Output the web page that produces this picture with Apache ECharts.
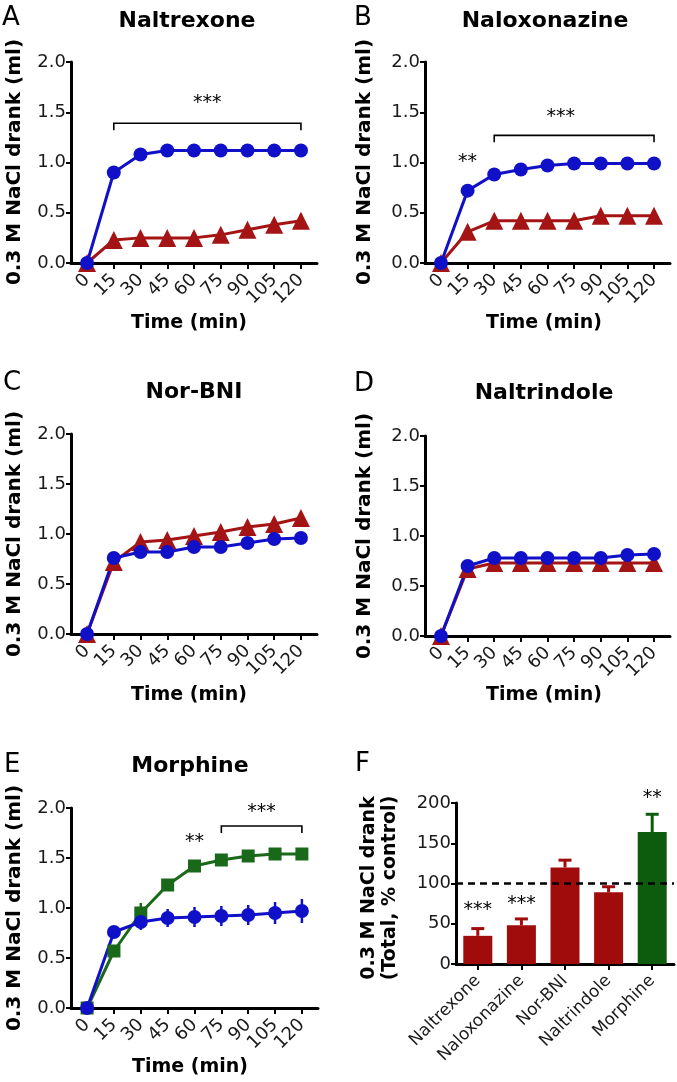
<!DOCTYPE html>
<html>
<head>
<meta charset="utf-8">
<script src="https://cdn.jsdelivr.net/npm/echarts@6/dist/echarts.min.js"></script>
<style>
html,body{margin:0;padding:0;background:#fff;}
#chart{width:677px;height:1082px;}
</style>
</head>
<body>
<div id="chart"></div>
<script>
// ---------- data ----------
const times = [0, 15, 30, 45, 60, 75, 90, 105, 120];
const timeTickValues = [0, 15, 30, 45, 60, 75, 90, 105, 120];
const yTicks = [0, 0.5, 1.0, 1.5, 2.0];

// A: Naltrexone
const naltrexoneVehicle = [0, 0.90, 1.08, 1.12, 1.12, 1.12, 1.12, 1.12, 1.12];
const naltrexoneVehicleErr = [0, 0.03, 0.03, 0.02, 0.02, 0.02, 0.02, 0.02, 0.02];
const naltrexoneDrug = [0, 0.23, 0.25, 0.25, 0.25, 0.28, 0.33, 0.38, 0.42];
const naltrexoneDrugErr = [0, 0.03, 0.03, 0.03, 0.03, 0.03, 0.04, 0.05, 0.07];

// B: Naloxonazine
const naloxonazineVehicle = [0, 0.72, 0.88, 0.93, 0.97, 0.99, 0.99, 0.99, 0.99];
const naloxonazineVehicleErr = [0, 0.04, 0.03, 0.05, 0.03, 0.02, 0.02, 0.02, 0.02];
const naloxonazineDrug = [0, 0.31, 0.42, 0.42, 0.42, 0.42, 0.47, 0.47, 0.47];
const naloxonazineDrugErr = [0, 0.04, 0.03, 0.03, 0.03, 0.03, 0.03, 0.03, 0.03];

// C: Nor-BNI
const norBniVehicle = [0, 0.76, 0.82, 0.82, 0.87, 0.87, 0.91, 0.95, 0.96];
const norBniVehicleErr = [0, 0.03, 0.03, 0.03, 0.03, 0.03, 0.03, 0.03, 0.03];
const norBniDrug = [0, 0.72, 0.92, 0.94, 0.98, 1.02, 1.07, 1.10, 1.16];
const norBniDrugErr = [0, 0.03, 0.03, 0.03, 0.03, 0.03, 0.04, 0.04, 0.05];

// D: Naltrindole
const naltrindoleVehicle = [0, 0.70, 0.78, 0.78, 0.78, 0.78, 0.78, 0.81, 0.82];
const naltrindoleVehicleErr = [0, 0.03, 0.03, 0.03, 0.03, 0.03, 0.03, 0.03, 0.03];
const naltrindoleDrug = [0, 0.67, 0.73, 0.73, 0.73, 0.73, 0.73, 0.73, 0.73];
const naltrindoleDrugErr = [0, 0.03, 0.03, 0.03, 0.03, 0.03, 0.03, 0.03, 0.03];

// E: Morphine
const morphineVehicle = [0, 0.76, 0.86, 0.90, 0.91, 0.92, 0.93, 0.95, 0.97];
const morphineVehicleErr = [0, 0.06, 0.08, 0.09, 0.10, 0.10, 0.10, 0.11, 0.12];
const morphineDrug = [0, 0.57, 0.95, 1.23, 1.42, 1.48, 1.52, 1.54, 1.54];
const morphineDrugErr = [0, 0.05, 0.10, 0.05, 0.04, 0.04, 0.05, 0.04, 0.04];

// F: totals
const totalCategories = ['Naltrexone', 'Naloxonazine', 'Nor-BNI', 'Naltrindole', 'Morphine'];
const totalPercent = [35, 48, 120, 89, 164];
const totalPercentErr = [9, 8, 9, 7, 22];
const totalYTicks = [0, 50, 100, 150, 200];
const controlLevel = 100;

// significance annotations: [xStart, xEnd, y]
const bracketsA = [[15, 120, 1.39]];
const bracketsB = [[30, 120, 1.27]];
const bracketsE = [[75, 120, 1.82]];
// stars: [x, y] + text
const starsAPos = [[67.5, 1.59]]; const starsAText = ['***'];
const starsBPos = [[15, 1.0], [67.5, 1.45]]; const starsBText = ['**', '***'];
const starsEPos = [[60, 1.66], [97.5, 1.96]]; const starsEText = ['**', '***'];
const starsFPos = [[0, 67], [1, 74], [4, 206]]; const starsFText = ['***', '***', '**'];

const panelTitles = ['Naltrexone', 'Naloxonazine', 'Nor-BNI', 'Naltrindole', 'Morphine'];
const panelLetters = ['A', 'B', 'C', 'D', 'E', 'F'];

// ---------- styles ----------
const BLUE = '#1010c8';
const RED = '#a51414';
const GREEN = '#1a691a';
const BAR_RED = '#a00c0c';
const BAR_GREEN = '#0d5c0d';
const FONT = 'DejaVu Sans';

const grids = [
  {left: 71, top: 62, width: 246, height: 201},
  {left: 425, top: 62, width: 245, height: 201},
  {left: 71, top: 434, width: 246, height: 200},
  {left: 425, top: 436, width: 245, height: 200},
  {left: 71, top: 808, width: 247, height: 200},
  {left: 456, top: 803, width: 218, height: 161}
];

const axisLineStyle = {show: true, onZero: false, lineStyle: {color: '#000', width: 3}};
const tickStyle = {show: true, length: 6, lineStyle: {color: '#000', width: 2}};
const labelFont = {fontFamily: FONT, fontSize: 18, color: '#1a1a1a'};

const xAxes = [];
const yAxes = [];
for (let i = 0; i < 5; i++) {
  xAxes.push({
    type: 'value', gridIndex: i, min: -9, max: 129,
    axisLine: axisLineStyle,
    axisTick: Object.assign({}, tickStyle, {customValues: timeTickValues}),
    axisLabel: Object.assign({}, labelFont, {rotate: 45, margin: 14, customValues: timeTickValues}),
    splitLine: {show: false}
  });
  yAxes.push({
    type: 'value', gridIndex: i, min: 0, max: 2, interval: 0.5,
    axisLine: axisLineStyle,
    axisTick: Object.assign({}, tickStyle, {length: 5}),
    axisLabel: Object.assign({}, labelFont, {margin: 5, formatter: v => v.toFixed(1)}),
    splitLine: {show: false}
  });
}
xAxes.push({
  type: 'category', gridIndex: 5, data: totalCategories, boundaryGap: true,
  axisLine: axisLineStyle,
  axisTick: Object.assign({}, tickStyle, {alignWithLabel: true}),
  axisLabel: Object.assign({}, labelFont, {fontSize: 17, rotate: 45, margin: 14, interval: 0})
});
yAxes.push({
  type: 'value', gridIndex: 5, min: 0, max: 200, interval: 50,
  axisLine: axisLineStyle,
  axisTick: Object.assign({}, tickStyle, {length: 5}),
  axisLabel: Object.assign({}, labelFont, {margin: 5}),
  splitLine: {show: false}
});

const series = [];

function pairs(vals) { return times.map((t, i) => [t, vals[i]]); }
function errTriples(vals, errs) { return times.map((t, i) => [t, vals[i], errs[i]]); }

function errorSeries(idx, vals, errs, color) {
  series.push({
    type: 'custom', xAxisIndex: idx, yAxisIndex: idx, z: 3, clip: false, silent: true,
    data: errTriples(vals, errs),
    renderItem: function (params, api) {
      const x = api.value(0), y = api.value(1), e = api.value(2);
      if (!e) return null;
      const lo = api.coord([x, y - e]);
      const hi = api.coord([x, y + e]);
      return {type: 'line', shape: {x1: lo[0], y1: lo[1], x2: hi[0], y2: hi[1]},
        style: {stroke: color, lineWidth: 2.5}};
    }
  });
}

function lineSeries(idx, vals, color, symbol, size) {
  series.push({
    type: 'line', xAxisIndex: idx, yAxisIndex: idx, z: 4,
    data: pairs(vals), symbol: symbol, symbolSize: size, showSymbol: true,
    lineStyle: {color: color, width: 3}, itemStyle: {color: color, opacity: 1},
    animation: false
  });
}

function bracketSeries(idx, brackets) {
  series.push({
    type: 'custom', xAxisIndex: idx, yAxisIndex: idx, z: 5, clip: false, silent: true,
    data: brackets,
    renderItem: function (params, api) {
      const p1 = api.coord([api.value(0), api.value(2)]);
      const p2 = api.coord([api.value(1), api.value(2)]);
      return {type: 'polyline',
        shape: {points: [[p1[0], p1[1] + 7], [p1[0], p1[1]], [p2[0], p2[1]], [p2[0], p2[1] + 7]]},
        style: {stroke: '#000', lineWidth: 1.6, fill: null}};
    }
  });
}

function starSeries(idx, pos, texts) {
  series.push({
    type: 'custom', xAxisIndex: idx, yAxisIndex: idx, z: 5, clip: false, silent: true,
    data: pos,
    renderItem: function (params, api) {
      const p = api.coord([api.value(0), api.value(1)]);
      return {type: 'text', x: p[0], y: p[1],
        style: {text: texts[params.dataIndex], fontFamily: FONT, fontSize: 19, fill: '#000',
          align: 'center', verticalAlign: 'middle'}};
    }
  });
}

// A
errorSeries(0, naltrexoneDrug, naltrexoneDrugErr, RED);
errorSeries(0, naltrexoneVehicle, naltrexoneVehicleErr, BLUE);
lineSeries(0, naltrexoneDrug, RED, 'triangle', 18);
lineSeries(0, naltrexoneVehicle, BLUE, 'circle', 14);
bracketSeries(0, bracketsA);
starSeries(0, starsAPos, starsAText);
// B
errorSeries(1, naloxonazineDrug, naloxonazineDrugErr, RED);
errorSeries(1, naloxonazineVehicle, naloxonazineVehicleErr, BLUE);
lineSeries(1, naloxonazineDrug, RED, 'triangle', 18);
lineSeries(1, naloxonazineVehicle, BLUE, 'circle', 14);
bracketSeries(1, bracketsB);
starSeries(1, starsBPos, starsBText);
// C
errorSeries(2, norBniDrug, norBniDrugErr, RED);
errorSeries(2, norBniVehicle, norBniVehicleErr, BLUE);
lineSeries(2, norBniDrug, RED, 'triangle', 18);
lineSeries(2, norBniVehicle, BLUE, 'circle', 14);
// D
errorSeries(3, naltrindoleDrug, naltrindoleDrugErr, RED);
errorSeries(3, naltrindoleVehicle, naltrindoleVehicleErr, BLUE);
lineSeries(3, naltrindoleDrug, RED, 'triangle', 18);
lineSeries(3, naltrindoleVehicle, BLUE, 'circle', 14);
// E
errorSeries(4, morphineDrug, morphineDrugErr, GREEN);
errorSeries(4, morphineVehicle, morphineVehicleErr, BLUE);
lineSeries(4, morphineDrug, GREEN, 'rect', 13);
lineSeries(4, morphineVehicle, BLUE, 'circle', 14);
bracketSeries(4, bracketsE);
starSeries(4, starsEPos, starsEText);

// F
const barColors = totalCategories.map(c => c === 'Morphine' ? BAR_GREEN : BAR_RED);
series.push({
  type: 'bar', xAxisIndex: 5, yAxisIndex: 5, barWidth: 29, z: 3,
  data: totalPercent.map((v, i) => ({value: v, itemStyle: {color: barColors[i]}})),
  markLine: {
    silent: true, symbol: 'none', label: {show: false},
    lineStyle: {type: [7, 5], color: '#000', width: 2.5},
    data: [{yAxis: controlLevel}]
  },
  animation: false
});
series.push({
  type: 'custom', xAxisIndex: 5, yAxisIndex: 5, z: 4, clip: false, silent: true,
  data: totalPercent.map((v, i) => [i, v, totalPercentErr[i]]),
  renderItem: function (params, api) {
    const i = api.value(0), v = api.value(1), e = api.value(2);
    const base = api.coord([i, v]);
    const top = api.coord([i, v + e]);
    const color = barColors[params.dataIndex];
    return {type: 'group', children: [
      {type: 'line', shape: {x1: base[0], y1: base[1], x2: top[0], y2: top[1]}, style: {stroke: color, lineWidth: 3}},
      {type: 'line', shape: {x1: top[0] - 6.5, y1: top[1], x2: top[0] + 6.5, y2: top[1]}, style: {stroke: color, lineWidth: 3}}
    ]};
  }
});
starSeries(5, starsFPos, starsFText);

// ---------- text ----------
const graphic = [];
function txt(x, y, text, size, weight, align, rotation, lineHeight) {
  graphic.push({
    type: 'text', x: x, y: y, rotation: rotation || 0, silent: true,
    style: {text: text, fontFamily: FONT, fontSize: size, fontWeight: weight, fill: '#000',
      align: align || 'center', verticalAlign: 'middle', lineHeight: lineHeight || size * 1.15}
  });
}
const letterPos = [[2, 18], [354, 18], [3, 383], [354, 384], [4, 765], [355, 764]];
panelLetters.forEach((l, i) => txt(letterPos[i][0], letterPos[i][1], l, 26, 'normal', 'left'));
const titlePos = [[187, 21], [545, 21], [194, 392], [544, 393], [190, 766]];
panelTitles.forEach((t, i) => txt(titlePos[i][0], titlePos[i][1], t, 22, 'bold'));
const timeTitlePos = [[189, 323], [544, 323], [189, 695], [544, 695], [190, 1067]];
timeTitlePos.forEach(p => txt(p[0], p[1], 'Time (min)', 19, 'bold'));
const yTitlePos = [[15, 162], [365, 162], [15, 534], [365, 536], [15, 908]];
yTitlePos.forEach(p => txt(p[0], p[1], '0.3 M NaCl drank (ml)', 20, 'bold', 'center', Math.PI / 2));
txt(380, 888, '0.3 M NaCl drank\n(Total, % control)', 19, 'bold', 'center', Math.PI / 2, 21);

const chart = echarts.init(document.getElementById('chart'), null, {renderer: 'canvas'});
chart.setOption({
  animation: false,
  backgroundColor: '#fff',
  grid: grids,
  xAxis: xAxes,
  yAxis: yAxes,
  series: series,
  graphic: graphic
});
</script>
</body>
</html>
